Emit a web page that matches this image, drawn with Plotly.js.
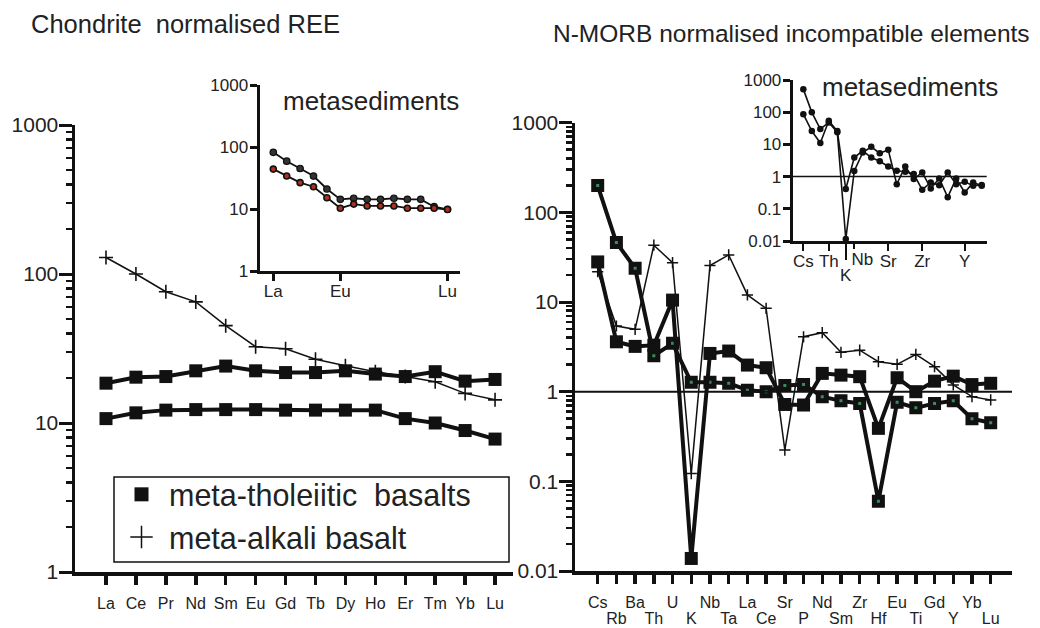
<!DOCTYPE html>
<html>
<head>
<meta charset="utf-8">
<script src="https://cdn.plot.ly/plotly-3.0.1.min.js"></script>
<style>html,body{margin:0;padding:0;background:#fff;}#chart{width:1040px;height:628px;}</style>
</head>
<body>
<div id="chart"></div>
<script>
// ---------- data ----------
const REE = ['La','Ce','Pr','Nd','Sm','Eu','Gd','Tb','Dy','Ho','Er','Tm','Yb','Lu'];
const reeTholHigh = [18.5,20.3,20.5,22.4,24.1,22.4,21.8,21.8,22.4,21.3,20.5,22.1,19.1,19.6];
const reeTholLow  = [10.7,11.7,12.2,12.3,12.3,12.3,12.2,12.2,12.2,12.2,10.7,10.0,8.9,7.8];
const reeAlkali   = [129,100,76,65,45,32.5,31.5,26.8,24.2,22.1,20.5,18.9,15.8,14.3];
const sedReeA = [82,59,45,34,21,14.3,14.9,14.3,14.3,14.9,14.3,14.3,10.9,9.9];
const sedReeB = [44,34,26.6,22.9,15.2,10.3,12,11.2,11.2,11.2,10.3,10.3,10.3,9.8];
const sedReeTickLabels = ['La','Eu','Lu'];

const INC = ['Cs','Rb','Ba','Th','U','K','Nb','Ta','La','Ce','Sr','P','Nd','Sm','Zr','Hf','Eu','Ti','Gd','Y','Yb','Lu'];
const morbTholA = [199,46,23.8,2.52,3.46,1.27,1.27,1.24,1.04,1.0,1.17,1.2,0.88,0.79,0.74,0.060,0.76,0.66,0.74,0.79,0.50,0.45];
const morbTholB = [28,3.6,3.2,3.3,10.5,0.0138,2.67,2.84,1.98,1.85,0.72,0.71,1.6,1.53,1.47,0.39,1.43,1.0,1.31,1.49,1.2,1.24];
const morbAlkali = [21.8,5.4,4.96,43,27.5,0.122,25.5,33.5,12.0,8.5,0.223,4.1,4.55,2.75,2.9,2.16,2.02,2.6,1.9,1.19,0.88,0.81];
const sedIncA = [520,99,30,48,24,0.0115,1.5,5.6,8.4,5.3,6.8,0.58,2.07,0.84,1.35,0.43,0.88,0.23,0.88,0.32,0.66,0.52];
const sedIncB = [87,26,11,54,26,0.41,3.9,6.3,3.9,3.0,2.07,1.51,1.41,1.2,0.39,0.66,0.54,1.35,0.58,0.69,0.52,0.55];
const sedIncTickLabels = ['Cs','Th','Sr','Zr','Y'];
const sedIncShiftLabel = 'Nb';
const sedIncLowLabel = 'K';

const legendNames = ['meta-tholeiitic\u00a0 basalts', 'meta-alkali basalt'];
const titles = ['Chondrite\u00a0 normalised REE', 'N-MORB normalised incompatible elements'];
const insetTitle = 'metasediments';

// ---------- helpers ----------
const W = 1040, H = 628;
const px = v => v / W, py = v => 1 - v / H;
const idx = arr => arr.map((_, i) => i);
const FONT = 'Liberation Sans, Arial, sans-serif';
const INK = '#111';
const TXT = '#222';

const reeX = idx(REE), incX = idx(INC);

const traces = [];
// left main
traces.push({x: reeX, y: reeAlkali, xaxis:'x', yaxis:'y', mode:'lines+markers', showlegend:false,
  line:{color:INK, width:1.5}, marker:{symbol:'cross-thin', size:10, line:{color:INK, width:1.6}}});
traces.push({x: reeX, y: reeTholHigh, xaxis:'x', yaxis:'y', mode:'lines+markers', showlegend:false,
  line:{color:INK, width:4}, marker:{symbol:'square', size:13, color:INK}});
traces.push({x: reeX, y: reeTholLow, xaxis:'x', yaxis:'y', mode:'lines+markers', showlegend:false,
  line:{color:INK, width:4}, marker:{symbol:'square', size:13, color:INK}});
// left inset
traces.push({x: reeX, y: sedReeA, xaxis:'x2', yaxis:'y2', mode:'lines+markers', showlegend:false,
  line:{color:INK, width:1.8}, marker:{symbol:'circle', size:6.5, color:'#333', line:{color:INK, width:1.2}}});
traces.push({x: reeX, y: sedReeB, xaxis:'x2', yaxis:'y2', mode:'lines+markers', showlegend:false,
  line:{color:INK, width:1.8}, marker:{symbol:'circle', size:6, color:'#b03020', line:{color:INK, width:1.6}}});
// right main
traces.push({x: incX, y: morbAlkali, xaxis:'x3', yaxis:'y3', mode:'lines+markers', showlegend:false,
  line:{color:INK, width:1.5}, marker:{symbol:'cross-thin', size:8, line:{color:INK, width:1.5}}});
traces.push({x: incX, y: morbTholA, xaxis:'x3', yaxis:'y3', mode:'lines+markers', showlegend:false,
  line:{color:INK, width:4}, marker:{symbol:'square', size:8, color:'#3b8c5c', line:{color:INK, width:5}}});
traces.push({x: incX, y: morbTholB, xaxis:'x3', yaxis:'y3', mode:'lines+markers', showlegend:false,
  line:{color:INK, width:4}, marker:{symbol:'square', size:13, color:INK}});
// right inset
traces.push({x: incX, y: sedIncA, xaxis:'x4', yaxis:'y4', mode:'lines+markers', showlegend:false,
  line:{color:INK, width:1.6}, marker:{symbol:'circle', size:6.5, color:INK}});
traces.push({x: incX, y: sedIncB, xaxis:'x4', yaxis:'y4', mode:'lines+markers', showlegend:false,
  line:{color:INK, width:1.6}, marker:{symbol:'circle', size:6.5, color:INK}});
// empty traces so the overlay label axes are drawn
traces.push({x:[null], y:[null], xaxis:'x5', yaxis:'y3', mode:'markers', showlegend:false, hoverinfo:'skip'});
traces.push({x:[null], y:[null], xaxis:'x6', yaxis:'y4', mode:'markers', showlegend:false, hoverinfo:'skip'});
traces.push({x:[null], y:[null], xaxis:'x7', yaxis:'y4', mode:'markers', showlegend:false, hoverinfo:'skip'});
// legend entries
traces.push({x:[null], y:[null], xaxis:'x', yaxis:'y', mode:'markers', name: legendNames[0], legendgroup:'a',
  marker:{symbol:'square', size:14, color:INK}});
traces.push({x:[null], y:[null], xaxis:'x', yaxis:'y', mode:'markers', name: legendNames[1], legendgroup:'b',
  marker:{symbol:'cross-thin', size:16, line:{color:INK, width:1.5}}});

const logTicks = [0.01,0.1,1,10,100,1000];
const logText = ['0.01','0.1','1','10','100','1000'];

const mainY = (domain, range) => ({
  domain, type:'log', range, tickmode:'array', tickvals: logTicks, ticktext: logText,
  showline:true, linewidth:3.5, linecolor:INK, ticks:'outside', ticklen:13, tickwidth:3, tickcolor:INK,
  minor:{ticks:'outside', ticklen:6, tickwidth:2.5, tickcolor:INK, dtick:'D1'},
  showgrid:false, zeroline:false, tickfont:{size:21, color:TXT, family:FONT}, ticklabelstandoff:-4
});
const insetY = (domain, range, anchor) => ({
  domain, type:'log', range, tickmode:'array', tickvals: logTicks, ticktext: logText, anchor,
  showline:true, linewidth:3, linecolor:INK, ticks:'outside', ticklen:7, tickwidth:3, tickcolor:INK,
  showgrid:false, zeroline:false, tickfont:{size:17, color:TXT, family:FONT}, ticklabelstandoff:-2
});

const incLower = incX.filter(i => i % 2 === 1);
const sedIncTickVals = sedIncTickLabels.map(l => INC.indexOf(l));
const insetXDomain = [px(792.7), px(986.7)], insetXRange = [-1.25, 21.59];

const layout = {
  width: W, height: H, margin:{l:0, r:0, t:0, b:0},
  paper_bgcolor:'#fff', plot_bgcolor:'rgba(0,0,0,0)',
  font:{family:FONT, color:TXT},
  showlegend:true,
  legend:{x:px(114), y:py(468), xanchor:'left', yanchor:'top', bgcolor:'rgba(0,0,0,0)', borderwidth:0,
    font:{size:30.5, color:TXT, family:FONT}, itemwidth:45, tracegroupgap:0, traceorder:'normal'},
  xaxis:{domain:[px(75), px(513)], range:[-1.036, 13.6], anchor:'y', tickmode:'array', tickvals:reeX, ticktext:REE,
    showline:true, linewidth:3.5, linecolor:INK, ticks:'outside', ticklen:9, tickwidth:3.5, tickcolor:INK, tickangle:0,
    showgrid:false, zeroline:false, tickfont:{size:16, color:TXT, family:FONT}, ticklabelstandoff:5},
  yaxis: Object.assign(mainY([py(572), py(125)], [0, 3]), {anchor:'x'}),
  xaxis2:{domain:[px(259.5), px(460)], range:[-1.03, 13.93], anchor:'y2', tickmode:'array',
    tickvals: sedReeTickLabels.map(l => REE.indexOf(l)), ticktext: sedReeTickLabels, tickangle:0,
    showline:true, linewidth:3, linecolor:INK, ticks:'outside', ticklen:7, tickwidth:3, tickcolor:INK,
    showgrid:false, zeroline:false, tickfont:{size:17, color:TXT, family:FONT}, ticklabelstandoff:-4},
  yaxis2: insetY([py(271), py(85)], [0, 3], 'x2'),
  xaxis3:{domain:[px(575), px(1012)], range:[-1.213, 22.139], anchor:'y3', tickmode:'array',
    tickvals: incX, ticktext: incX.map(i => i % 2 === 0 ? INC[i] : ''), tickangle:0,
    showline:true, linewidth:3.5, linecolor:INK, ticks:'outside', ticklen:9, tickwidth:3.5, tickcolor:INK,
    showgrid:false, zeroline:false, tickfont:{size:16, color:TXT, family:FONT}, ticklabelstandoff:5},
  xaxis5:{domain:[px(575), px(1012)], range:[-1.213, 22.139], anchor:'y3', overlaying:'x3', tickmode:'array',
    tickvals: incLower, ticktext: incLower.map(i => INC[i]), showline:false, tickangle:0,
    ticks:'outside', ticklen:9, tickwidth:3.5, tickcolor:INK,
    showgrid:false, zeroline:false, tickfont:{size:16, color:TXT, family:FONT}, ticklabelstandoff:24},
  yaxis3: Object.assign(mainY([py(571), py(122.7)], [-2, 3]), {anchor:'x3'}),
  xaxis4:{domain:insetXDomain, range:insetXRange, anchor:'y4', tickmode:'array',
    tickvals: sedIncTickVals, ticktext: sedIncTickLabels, tickangle:0,
    showline:true, linewidth:3, linecolor:INK, ticks:'outside', ticklen:7, tickwidth:2, tickcolor:INK,
    showgrid:false, zeroline:false, tickfont:{size:17, color:TXT, family:FONT}, ticklabelstandoff:-4},
  xaxis7:{domain:insetXDomain, range:insetXRange, anchor:'y4', overlaying:'x4', tickmode:'array',
    tickvals:[INC.indexOf(sedIncShiftLabel)], ticktext:[sedIncShiftLabel], showline:false, tickangle:0,
    ticks:'outside', ticklen:7, tickwidth:2, tickcolor:INK, ticklabelshift:8,
    showgrid:false, zeroline:false, tickfont:{size:17, color:TXT, family:FONT}, ticklabelstandoff:-4},
  xaxis6:{domain:insetXDomain, range:insetXRange, anchor:'y4', overlaying:'x4', tickmode:'array',
    tickvals:[INC.indexOf(sedIncLowLabel)], ticktext:[sedIncLowLabel], showline:false, tickangle:0,
    ticks:'outside', ticklen:18, tickwidth:1.5, tickcolor:INK,
    showgrid:false, zeroline:false, tickfont:{size:17, color:TXT, family:FONT}, ticklabelstandoff:1},
  yaxis4: insetY([py(241), py(80)], [-2, 3], 'x4'),
  shapes:[
    {type:'line', xref:'x3 domain', x0:0, x1:1, yref:'y3', y0:1, y1:1, line:{color:INK, width:2}},
    {type:'line', xref:'x4 domain', x0:0, x1:1, yref:'y4', y0:1, y1:1, line:{color:INK, width:1.5}},
    {type:'rect', xref:'paper', yref:'paper', x0:px(114), x1:px(509), y0:py(562), y1:py(477),
      line:{color:INK, width:1.5}, fillcolor:'rgba(0,0,0,0)'}
  ],
  annotations:[
    {xref:'paper', yref:'paper', x:px(29), y:py(24), xanchor:'left', yanchor:'middle', showarrow:false,
      text:titles[0], font:{size:25.5, color:TXT, family:FONT}},
    {xref:'paper', yref:'paper', x:px(551), y:py(34), xanchor:'left', yanchor:'middle', showarrow:false,
      text:titles[1], font:{size:24.5, color:TXT, family:FONT}},
    {xref:'paper', yref:'paper', x:px(281), y:py(101), xanchor:'left', yanchor:'middle', showarrow:false,
      text:insetTitle, font:{size:26, color:TXT, family:FONT}},
    {xref:'paper', yref:'paper', x:px(820), y:py(87), xanchor:'left', yanchor:'middle', showarrow:false,
      text:insetTitle, font:{size:26, color:TXT, family:FONT}}
  ]
};

Plotly.newPlot('chart', traces, layout, {staticPlot:true, displayModeBar:false});
</script>
</body>
</html>
